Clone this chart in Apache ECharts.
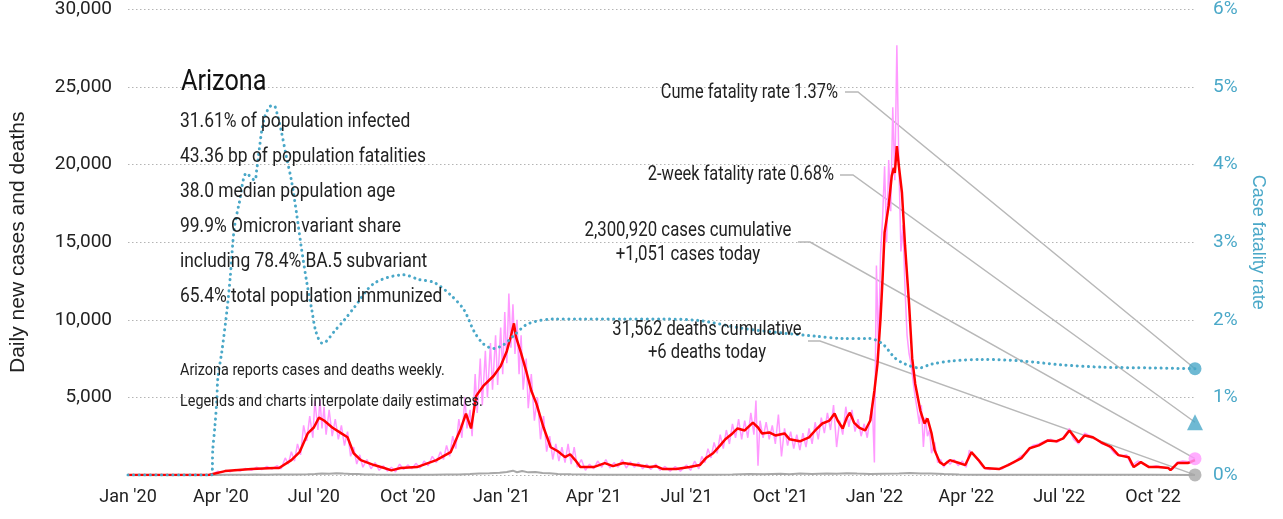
<!DOCTYPE html>
<html>
<head>
<meta charset="utf-8">
<script src="https://cdn.jsdelivr.net/npm/echarts@6/dist/echarts.min.js"></script>
<style>
  html, body { margin: 0; padding: 0; background: #fff; }
  #chart { width: 1283px; height: 519px; }
</style>
</head>
<body>
<div id="chart"></div>
<script>
const FONT = "Roboto, 'Liberation Sans', sans-serif";
const NAME_FONT = "'Liberation Sans', Arial, sans-serif";
const TEAL = '#4aa8c8';
const PINK = '#ff99ff';
const GREY = '#a8a8a8';

// x axis
const startDate = '2020-01-01';
const endDate = '2022-11-11';
const tickDates = ['2020-01-01', '2020-04-01', '2020-07-01', '2020-10-01', '2021-01-01', '2021-04-01',
  '2021-07-01', '2021-10-01', '2022-01-01', '2022-04-01', '2022-07-01', '2022-10-01'];
const tickLabels = ["Jan '20", "Apr '20", "Jul '20", "Oct '20", "Jan '21", "Apr '21",
  "Jul '21", "Oct '21", "Jan '22", "Apr '22", "Jul '22", "Oct '22"];

// 7-day average of new cases
const avgCases = [
  ['2020-01-01', 0], ['2020-03-20', 0], ['2020-04-05', 250], ['2020-05-01', 380], ['2020-05-23', 450],
  ['2020-05-28', 450], ['2020-06-09', 960], ['2020-06-17', 1470], ['2020-06-25', 2680], ['2020-07-01', 3060],
  ['2020-07-06', 3700], ['2020-07-11', 3510], ['2020-07-19', 3060], ['2020-07-28', 2680], ['2020-08-03', 2430],
  ['2020-08-09', 1400], ['2020-08-16', 960], ['2020-08-29', 640], ['2020-09-08', 450], ['2020-09-15', 300],
  ['2020-09-24', 450], ['2020-10-10', 510], ['2020-10-29', 960], ['2020-11-12', 1470], ['2020-11-22', 3000],
  ['2020-11-27', 3960], ['2020-12-02', 3000], ['2020-12-07', 5100], ['2020-12-14', 5740], ['2020-12-24', 6380],
  ['2020-12-31', 7020], ['2021-01-06', 7980], ['2021-01-10', 8940], ['2021-01-13', 9770], ['2021-01-15', 8900],
  ['2021-01-20', 7850], ['2021-01-25', 6700], ['2021-01-30', 5430], ['2021-02-04', 4600], ['2021-02-11', 3060],
  ['2021-02-18', 1790], ['2021-02-25', 1530], ['2021-03-04', 1150], ['2021-03-09', 1340], ['2021-03-14', 960],
  ['2021-03-19', 510], ['2021-04-01', 510], ['2021-04-12', 770], ['2021-04-20', 570], ['2021-04-30', 770],
  ['2021-05-13', 640], ['2021-05-26', 510], ['2021-06-01', 570], ['2021-06-08', 380], ['2021-06-21', 380],
  ['2021-07-04', 510], ['2021-07-14', 640], ['2021-07-20', 1090], ['2021-07-27', 1400], ['2021-08-03', 1910],
  ['2021-08-08', 2300], ['2021-08-15', 2680], ['2021-08-20', 3000], ['2021-08-27', 2870], ['2021-09-04', 3380],
  ['2021-09-09', 3060], ['2021-09-13', 2680], ['2021-09-20', 2740], ['2021-09-26', 2550], ['2021-10-05', 2680],
  ['2021-10-10', 2300], ['2021-10-20', 2170], ['2021-10-29', 2430], ['2021-11-04', 2870], ['2021-11-11', 3320],
  ['2021-11-18', 3510], ['2021-11-23', 3960], ['2021-11-26', 3510], ['2021-12-01', 3000], ['2021-12-05', 3700],
  ['2021-12-08', 4020], ['2021-12-12', 3380], ['2021-12-17', 3060], ['2021-12-23', 2870], ['2021-12-28', 3510],
  ['2022-01-01', 5430], ['2022-01-04', 7150], ['2022-01-07', 10090], ['2022-01-09', 12640], ['2022-01-11', 15640],
  ['2022-01-15', 17360], ['2022-01-18', 19280], ['2022-01-20', 19790], ['2022-01-21', 19470], ['2022-01-23', 21190],
  ['2022-01-25', 19910], ['2022-01-28', 18190], ['2022-01-31', 14810], ['2022-02-04', 10980], ['2022-02-07', 7530],
  ['2022-02-10', 5870], ['2022-02-15', 4150], ['2022-02-19', 3320], ['2022-02-22', 3640], ['2022-02-26', 2680],
  ['2022-03-01', 1600], ['2022-03-06', 830], ['2022-03-10', 640], ['2022-03-16', 960], ['2022-03-25', 770],
  ['2022-03-31', 640], ['2022-04-06', 1470], ['2022-04-13', 960], ['2022-04-19', 450], ['2022-05-03', 380],
  ['2022-05-12', 640], ['2022-05-25', 1090], ['2022-06-02', 1720], ['2022-06-11', 1910], ['2022-06-20', 2230],
  ['2022-06-28', 2170], ['2022-07-05', 2360], ['2022-07-11', 2870], ['2022-07-20', 2110], ['2022-07-26', 2550],
  ['2022-08-03', 2430], ['2022-08-11', 2110], ['2022-08-21', 1790], ['2022-08-28', 1280], ['2022-09-07', 1150],
  ['2022-09-12', 510], ['2022-09-19', 830], ['2022-09-27', 510], ['2022-10-06', 510], ['2022-10-16', 450],
  ['2022-10-18', 320], ['2022-10-25', 770], ['2022-11-04', 770], ['2022-11-11', 960]
];

// daily new cases (reported weekly, interpolated)
const dailyCases = [
  ['2020-01-01', 0], ['2020-03-20', 0], ['2020-03-25', 100], ['2020-03-29', 250], ['2020-04-02', 150],
  ['2020-04-06', 300], ['2020-04-10', 200], ['2020-04-15', 350], ['2020-04-20', 250], ['2020-04-25', 420],
  ['2020-05-01', 300], ['2020-05-06', 500], ['2020-05-11', 350], ['2020-05-16', 550], ['2020-05-21', 380],
  ['2020-05-26', 600], ['2020-05-30', 400], ['2020-06-03', 1100], ['2020-06-06', 700], ['2020-06-09', 1500],
  ['2020-06-12', 900], ['2020-06-15', 2000], ['2020-06-18', 1300], ['2020-06-21', 3200], ['2020-06-24', 2200],
  ['2020-06-27', 3800], ['2020-06-30', 2400], ['2020-07-02', 4800], ['2020-07-05', 2900], ['2020-07-07', 4900],
  ['2020-07-09', 3000], ['2020-07-11', 4400], ['2020-07-13', 2600], ['2020-07-16', 4200], ['2020-07-19', 2500],
  ['2020-07-22', 3600], ['2020-07-25', 2300], ['2020-07-28', 3200], ['2020-07-31', 1900], ['2020-08-03', 2800],
  ['2020-08-06', 1200], ['2020-08-09', 1800], ['2020-08-12', 700], ['2020-08-15', 1300], ['2020-08-18', 500],
  ['2020-08-22', 1000], ['2020-08-26', 400], ['2020-08-30', 800], ['2020-09-03', 300], ['2020-09-07', 600],
  ['2020-09-11', 250], ['2020-09-15', 500], ['2020-09-19', 200], ['2020-09-23', 700], ['2020-09-27', 350],
  ['2020-10-01', 650], ['2020-10-05', 400], ['2020-10-09', 750], ['2020-10-13', 450], ['2020-10-17', 900],
  ['2020-10-21', 600], ['2020-10-25', 1200], ['2020-10-29', 800], ['2020-11-02', 1500], ['2020-11-05', 1000],
  ['2020-11-08', 1900], ['2020-11-11', 1200], ['2020-11-14', 2500], ['2020-11-17', 1700], ['2020-11-20', 3600],
  ['2020-11-23', 2400], ['2020-11-26', 5000], ['2020-11-28', 3000], ['2020-12-01', 4200], ['2020-12-03', 2500],
  ['2020-12-06', 6500], ['2020-12-08', 4000], ['2020-12-11', 7500], ['2020-12-13', 4500], ['2020-12-16', 8000],
  ['2020-12-18', 5000], ['2020-12-21', 8500], ['2020-12-23', 5500], ['2020-12-26', 9000], ['2020-12-28', 5800],
  ['2020-12-31', 9500], ['2021-01-02', 6500], ['2021-01-04', 10500], ['2021-01-06', 7200], ['2021-01-08', 11700],
  ['2021-01-10', 8200], ['2021-01-12', 11000], ['2021-01-14', 7800], ['2021-01-16', 10000], ['2021-01-18', 6500],
  ['2021-01-20', 9000], ['2021-01-22', 5500], ['2021-01-25', 7500], ['2021-01-27', 4300], ['2021-01-30', 6500],
  ['2021-02-02', 3500], ['2021-02-05', 5000], ['2021-02-08', 2300], ['2021-02-11', 3800], ['2021-02-14', 1500],
  ['2021-02-17', 2500], ['2021-02-20', 1000], ['2021-02-23', 2000], ['2021-02-26', 900], ['2021-03-01', 1800],
  ['2021-03-04', 800], ['2021-03-07', 2000], ['2021-03-10', 700], ['2021-03-13', 1800], ['2021-03-16', 500],
  ['2021-03-20', 1000], ['2021-03-24', 300], ['2021-03-28', 700], ['2021-04-01', 400], ['2021-04-05', 900],
  ['2021-04-09', 500], ['2021-04-13', 1000], ['2021-04-17', 450], ['2021-04-21', 800], ['2021-04-25', 500],
  ['2021-04-29', 1000], ['2021-05-03', 450], ['2021-05-07', 850], ['2021-05-11', 500], ['2021-05-15', 800],
  ['2021-05-19', 400], ['2021-05-23', 700], ['2021-05-27', 350], ['2021-06-01', 700], ['2021-06-05', 300],
  ['2021-06-10', 550], ['2021-06-15', 250], ['2021-06-20', 550], ['2021-06-25', 250], ['2021-07-01', 650],
  ['2021-07-05', 300], ['2021-07-09', 900], ['2021-07-13', 400], ['2021-07-16', 1200], ['2021-07-19', 800],
  ['2021-07-22', 1700], ['2021-07-25', 1100], ['2021-07-28', 2100], ['2021-07-31', 1400], ['2021-08-03', 2600],
  ['2021-08-06', 1700], ['2021-08-09', 2900], ['2021-08-12', 2000], ['2021-08-15', 3300], ['2021-08-18', 2400],
  ['2021-08-21', 3600], ['2021-08-24', 2300], ['2021-08-27', 3500], ['2021-08-30', 2400], ['2021-09-02', 4000],
  ['2021-09-05', 2600], ['2021-09-07', 4800], ['2021-09-09', 600], ['2021-09-11', 3500], ['2021-09-14', 2400],
  ['2021-09-17', 3400], ['2021-09-20', 2300], ['2021-09-23', 3200], ['2021-09-26', 2000], ['2021-09-29', 3900],
  ['2021-10-02', 1200], ['2021-10-05', 3000], ['2021-10-08', 1900], ['2021-10-11', 2800], ['2021-10-14', 1700],
  ['2021-10-17', 2600], ['2021-10-20', 1600], ['2021-10-23', 2700], ['2021-10-26', 1800], ['2021-10-29', 3000],
  ['2021-11-01', 2000], ['2021-11-04', 3400], ['2021-11-07', 2300], ['2021-11-10', 3700], ['2021-11-13', 2700],
  ['2021-11-16', 4000], ['2021-11-19', 2900], ['2021-11-22', 4500], ['2021-11-25', 1800], ['2021-11-28', 3500],
  ['2021-12-01', 2600], ['2021-12-04', 4400], ['2021-12-07', 3100], ['2021-12-10', 4200], ['2021-12-13', 2800],
  ['2021-12-16', 3600], ['2021-12-19', 2500], ['2021-12-22', 3300], ['2021-12-25', 2400], ['2021-12-28', 3800],
  ['2021-12-30', 4600], ['2022-01-01', 800], ['2022-01-03', 13500], ['2022-01-05', 8000], ['2022-01-07', 14200],
  ['2022-01-09', 16500], ['2022-01-11', 19900], ['2022-01-13', 15000], ['2022-01-15', 20300], ['2022-01-17', 17000],
  ['2022-01-19', 23700], ['2022-01-21', 19000], ['2022-01-23', 27700], ['2022-01-25', 20000], ['2022-01-27', 14400],
  ['2022-01-29', 16100], ['2022-01-31', 12000], ['2022-02-02', 9000], ['2022-02-04', 7800], ['2022-02-06', 7150],
  ['2022-02-08', 6000], ['2022-02-10', 5000], ['2022-02-12', 4200], ['2022-02-14', 3300], ['2022-02-16', 4500],
  ['2022-02-18', 1800], ['2022-02-20', 3700], ['2022-02-22', 2500], ['2022-02-24', 2900], ['2022-02-26', 1400],
  ['2022-03-01', 2100], ['2022-03-04', 800], ['2022-03-07', 1000], ['2022-03-10', 500], ['2022-03-13', 900],
  ['2022-03-16', 700], ['2022-03-20', 1000], ['2022-03-24', 600], ['2022-03-28', 900], ['2022-04-01', 500],
  ['2022-04-04', 1600], ['2022-04-08', 1300], ['2022-04-12', 1000], ['2022-04-16', 600], ['2022-04-20', 400],
  ['2022-04-24', 350], ['2022-04-30', 420], ['2022-05-06', 380], ['2022-05-12', 700], ['2022-05-18', 800],
  ['2022-05-24', 1200], ['2022-05-30', 1400], ['2022-06-05', 1900], ['2022-06-11', 2000], ['2022-06-17', 2200],
  ['2022-06-23', 2300], ['2022-06-29', 2100], ['2022-07-05', 2400], ['2022-07-11', 3000], ['2022-07-15', 2300],
  ['2022-07-20', 2000], ['2022-07-26', 2700], ['2022-08-01', 2500], ['2022-08-06', 2300], ['2022-08-12', 2000],
  ['2022-08-18', 1900], ['2022-08-24', 1400], ['2022-08-30', 1200], ['2022-09-05', 1300], ['2022-09-10', 600],
  ['2022-09-16', 900], ['2022-09-22', 700], ['2022-09-28', 500], ['2022-10-04', 600], ['2022-10-10', 500],
  ['2022-10-16', 450], ['2022-10-20', 350], ['2022-10-24', 800], ['2022-10-30', 900], ['2022-11-05', 850],
  ['2022-11-11', 1051]
];

// daily deaths
const dailyDeaths = [
  ['2020-01-01', 0], ['2020-03-15', 0], ['2020-03-25', 5], ['2020-04-05', 15], ['2020-04-15', 20],
  ['2020-04-25', 15], ['2020-05-05', 25], ['2020-05-15', 20], ['2020-05-25', 30], ['2020-06-05', 25],
  ['2020-06-15', 40], ['2020-06-25', 50], ['2020-07-02', 70], ['2020-07-09', 100], ['2020-07-16', 80],
  ['2020-07-23', 120], ['2020-07-30', 90], ['2020-08-06', 70], ['2020-08-13', 60], ['2020-08-20', 40],
  ['2020-08-30', 30], ['2020-09-10', 20], ['2020-09-25', 15], ['2020-10-10', 20], ['2020-10-25', 15],
  ['2020-11-08', 30], ['2020-11-20', 40], ['2020-12-01', 60], ['2020-12-10', 90], ['2020-12-20', 110],
  ['2020-12-30', 150], ['2021-01-06', 200], ['2021-01-12', 280], ['2021-01-16', 180], ['2021-01-21', 260],
  ['2021-01-27', 170], ['2021-02-03', 200], ['2021-02-10', 130], ['2021-02-17', 110], ['2021-02-25', 70],
  ['2021-03-10', 50], ['2021-03-25', 30], ['2021-04-10', 15], ['2021-05-01', 20], ['2021-05-20', 10],
  ['2021-06-10', 15], ['2021-07-01', 10], ['2021-07-25', 20], ['2021-08-15', 40], ['2021-09-01', 60],
  ['2021-09-15', 50], ['2021-10-01', 80], ['2021-10-10', 50], ['2021-10-20', 90], ['2021-11-01', 70],
  ['2021-11-15', 100], ['2021-11-25', 80], ['2021-12-05', 110], ['2021-12-15', 90], ['2021-12-28', 70],
  ['2022-01-10', 80], ['2022-01-25', 90], ['2022-02-05', 130], ['2022-02-15', 100], ['2022-02-25', 90],
  ['2022-03-10', 60], ['2022-03-25', 30], ['2022-04-10', 20], ['2022-05-01', 15], ['2022-06-01', 10],
  ['2022-07-01', 15], ['2022-08-01', 20], ['2022-09-01', 15], ['2022-10-01', 10], ['2022-11-11', 6]
];

// case fatality rate, percent
const fatalityRate = [
  ['2020-01-01', 0], ['2020-03-23', 0], ['2020-03-24', 0.32], ['2020-03-26', 0.61], ['2020-03-28', 0.96],
  ['2020-03-29', 1.25], ['2020-04-02', 1.6], ['2020-04-07', 2.13], ['2020-04-10', 2.53], ['2020-04-14', 3.17],
  ['2020-04-19', 3.51], ['2020-04-26', 3.89], ['2020-05-04', 3.8], ['2020-05-06', 3.93], ['2020-05-11', 4.44],
  ['2020-05-14', 4.62], ['2020-05-19', 4.75], ['2020-05-23', 4.76], ['2020-05-26', 4.66], ['2020-05-30', 4.44],
  ['2020-06-04', 4.11], ['2020-06-09', 3.8], ['2020-06-14', 3.38], ['2020-06-19', 2.91], ['2020-06-24', 2.49],
  ['2020-06-29', 2.13], ['2020-07-03', 1.85], ['2020-07-09', 1.7], ['2020-07-13', 1.72], ['2020-07-21', 1.85],
  ['2020-07-31', 2.0], ['2020-08-09', 2.15], ['2020-08-29', 2.47], ['2020-09-27', 2.58], ['2020-10-12', 2.52],
  ['2020-10-27', 2.48], ['2020-11-12', 2.32], ['2020-11-25', 2.13], ['2020-12-05', 1.85], ['2020-12-14', 1.69],
  ['2020-12-24', 1.63], ['2021-01-03', 1.68], ['2021-01-13', 1.8], ['2021-01-27', 1.95], ['2021-02-21', 2.01],
  ['2021-03-22', 2.01], ['2021-04-30', 2.01], ['2021-06-08', 2.01], ['2021-07-14', 1.99], ['2021-08-25', 1.89],
  ['2021-10-03', 1.83], ['2021-11-04', 1.79], ['2021-12-01', 1.76], ['2021-12-27', 1.76], ['2022-01-09', 1.69],
  ['2022-01-21', 1.51], ['2022-01-31', 1.43], ['2022-02-14', 1.38], ['2022-02-26', 1.43], ['2022-03-18', 1.47],
  ['2022-04-16', 1.49], ['2022-05-25', 1.47], ['2022-07-03', 1.42], ['2022-08-11', 1.39], ['2022-09-29', 1.38],
  ['2022-11-11', 1.37]
];

// headline figures
const cumeRate = 1.37;
const twoWeekRate = 0.68;
const casesCumulative = 2300920;
const casesToday = 1051;
const deathsCumulative = 31562;
const deathsToday = 6;

const stateName = 'Arizona';
const infoLines = [
  '31.61% of population infected',
  '43.36 bp of population fatalities',
  '38.0 median population age',
  '99.9% Omicron variant share',
  'including 78.4% BA.5 subvariant',
  '65.4% total population immunized'
];
const notes = [
  'Arizona reports cases and deaths weekly.',
  'Legends and charts interpolate daily estimates.'
];

const fmt = n => n.toLocaleString('en-US');
const ts = d => Date.UTC(+d.slice(0, 4), +d.slice(5, 7) - 1, +d.slice(8, 10));
const toXY = arr => arr.map(([d, v]) => [ts(d), v]);
const tickValues = tickDates.map(ts);
const startTs = ts(startDate);
const endTs = ts(endDate);

const chart = echarts.init(document.getElementById('chart'), null, { renderer: 'canvas' });

const option = {
  animation: false,
  textStyle: { fontFamily: FONT },
  grid: { left: 123, right: 88, top: 5, bottom: 44 },
  xAxis: {
    type: 'value',
    min: startTs,
    max: endTs,
    axisLine: { show: false },
    axisTick: { show: false },
    splitLine: { show: false },
    axisLabel: {
      customValues: tickValues,
      formatter: v => { const i = tickValues.indexOf(+v); return i >= 0 ? tickLabels[i] : ''; },
      fontSize: 18, color: '#222', margin: 13, fontFamily: FONT
    }
  },
  yAxis: [
    {
      type: 'value', min: 0, max: 30000, interval: 5000,
      axisLine: { show: false }, axisTick: { show: false },
      splitLine: { lineStyle: { color: '#b4b4b4', type: [1.5, 2.5], width: 1 } },
      axisLabel: { formatter: v => v === 0 ? '' : fmt(v), fontSize: 19, color: '#222', margin: 16, fontFamily: FONT },
      name: 'Daily new cases and deaths', nameLocation: 'middle', nameGap: 99,
      nameTextStyle: { fontSize: 21, color: '#222', fontFamily: NAME_FONT }
    },
    {
      type: 'value', min: 0, max: 6, interval: 1, position: 'right',
      axisLine: { show: false }, axisTick: { show: false }, splitLine: { show: false },
      axisLabel: { formatter: v => v + '%', fontSize: 19, color: TEAL, margin: 18, fontFamily: FONT },
      name: 'Case fatality rate', nameLocation: 'middle', nameGap: 39, nameRotate: -90,
      nameTextStyle: { fontSize: 18, color: TEAL, fontFamily: NAME_FONT }
    }
  ],
  series: [
    { type: 'line', name: 'deaths', data: toXY(dailyDeaths), showSymbol: false, symbol: 'none',
      lineStyle: { color: GREY, width: 2 }, z: 2 },
    { type: 'line', name: 'daily cases', data: toXY(dailyCases), showSymbol: false, symbol: 'none',
      lineStyle: { color: PINK, width: 1.5 }, z: 3 },
    { type: 'line', name: 'average cases', data: toXY(avgCases), showSymbol: false, symbol: 'none',
      lineStyle: { color: '#ff0000', width: 2.5 }, z: 4 },
    { type: 'line', name: 'fatality rate', yAxisIndex: 1, data: toXY(fatalityRate), showSymbol: false, symbol: 'none',
      smooth: 0.3,
      lineStyle: { color: TEAL, width: 3, type: [0.1, 5.5], cap: 'round' }, z: 5 },
    { type: 'scatter', id: 'cfrEnd', yAxisIndex: 1, data: [[endTs, cumeRate]], symbol: 'circle', symbolSize: 13,
      itemStyle: { color: TEAL }, z: 6 },
    { type: 'scatter', id: 'twoWeekEnd', yAxisIndex: 1, data: [[endTs, twoWeekRate]], symbol: 'triangle', symbolSize: 16,
      itemStyle: { color: TEAL }, z: 6 },
    { type: 'scatter', id: 'casesEnd', data: [[endTs, casesToday]], symbol: 'circle', symbolSize: 13,
      itemStyle: { color: PINK }, z: 6 },
    { type: 'scatter', id: 'deathsEnd', data: [[endTs, deathsToday]], symbol: 'circle', symbolSize: 13,
      itemStyle: { color: GREY }, z: 6 }
  ]
};
chart.setOption(option);

// leader lines and text, anchored on the end markers
const pCfr = chart.convertToPixel({ seriesId: 'cfrEnd' }, [endTs, cumeRate]);
const pTwo = chart.convertToPixel({ seriesId: 'twoWeekEnd' }, [endTs, twoWeekRate]);
const pCases = chart.convertToPixel({ seriesId: 'casesEnd' }, [endTs, casesToday]);
const pDeaths = chart.convertToPixel({ seriesId: 'deathsEnd' }, [endTs, deathsToday]);

const leader = (pts) => ({ type: 'polyline', shape: { points: pts }, style: { stroke: '#b8b8b8', lineWidth: 1.5, fill: null }, z: 1 });
// narrow the text horizontally to mimic the condensed face of the original
const txt = (x, y, text, size, sx, align, vAlign, extra) => ({
  type: 'text', x, y, z: 10, scaleX: sx,
  style: Object.assign({ text, fill: '#222', font: size + 'px ' + FONT, align, verticalAlign: vAlign }, extra || {})
});

const graphics = [
  leader([[845, 92], [858, 92], pCfr]),
  leader([[840, 175], [853, 175], pTwo]),
  leader([[798, 242], [810, 242], pCases]),
  leader([[808, 341], [820, 341], pDeaths]),
  txt(838, 93, 'Cume fatality rate ' + cumeRate.toFixed(2) + '%', 20, 0.82, 'right', 'middle'),
  txt(834, 175, '2-week fatality rate ' + twoWeekRate.toFixed(2) + '%', 20, 0.82, 'right', 'middle'),
  txt(688, 219, fmt(casesCumulative) + ' cases cumulative\n+' + fmt(casesToday) + ' cases today', 20, 0.84, 'center', 'top', { lineHeight: 24 }),
  txt(707, 318, fmt(deathsCumulative) + ' deaths cumulative\n+' + fmt(deathsToday) + ' deaths today', 20, 0.83, 'center', 'top', { lineHeight: 23 }),
  txt(181, 82, stateName, 30, 0.84, 'left', 'middle', { fill: '#111' }),
  txt(180, 371, notes[0], 16, 0.9, 'left', 'middle'),
  txt(180, 402, notes[1], 16, 0.9, 'left', 'middle')
];
infoLines.forEach((line, i) => graphics.push(txt(180, 122 + i * 35, line, 20, 0.87, 'left', 'middle')));

chart.setOption({ graphic: graphics });
</script>
</body>
</html>
